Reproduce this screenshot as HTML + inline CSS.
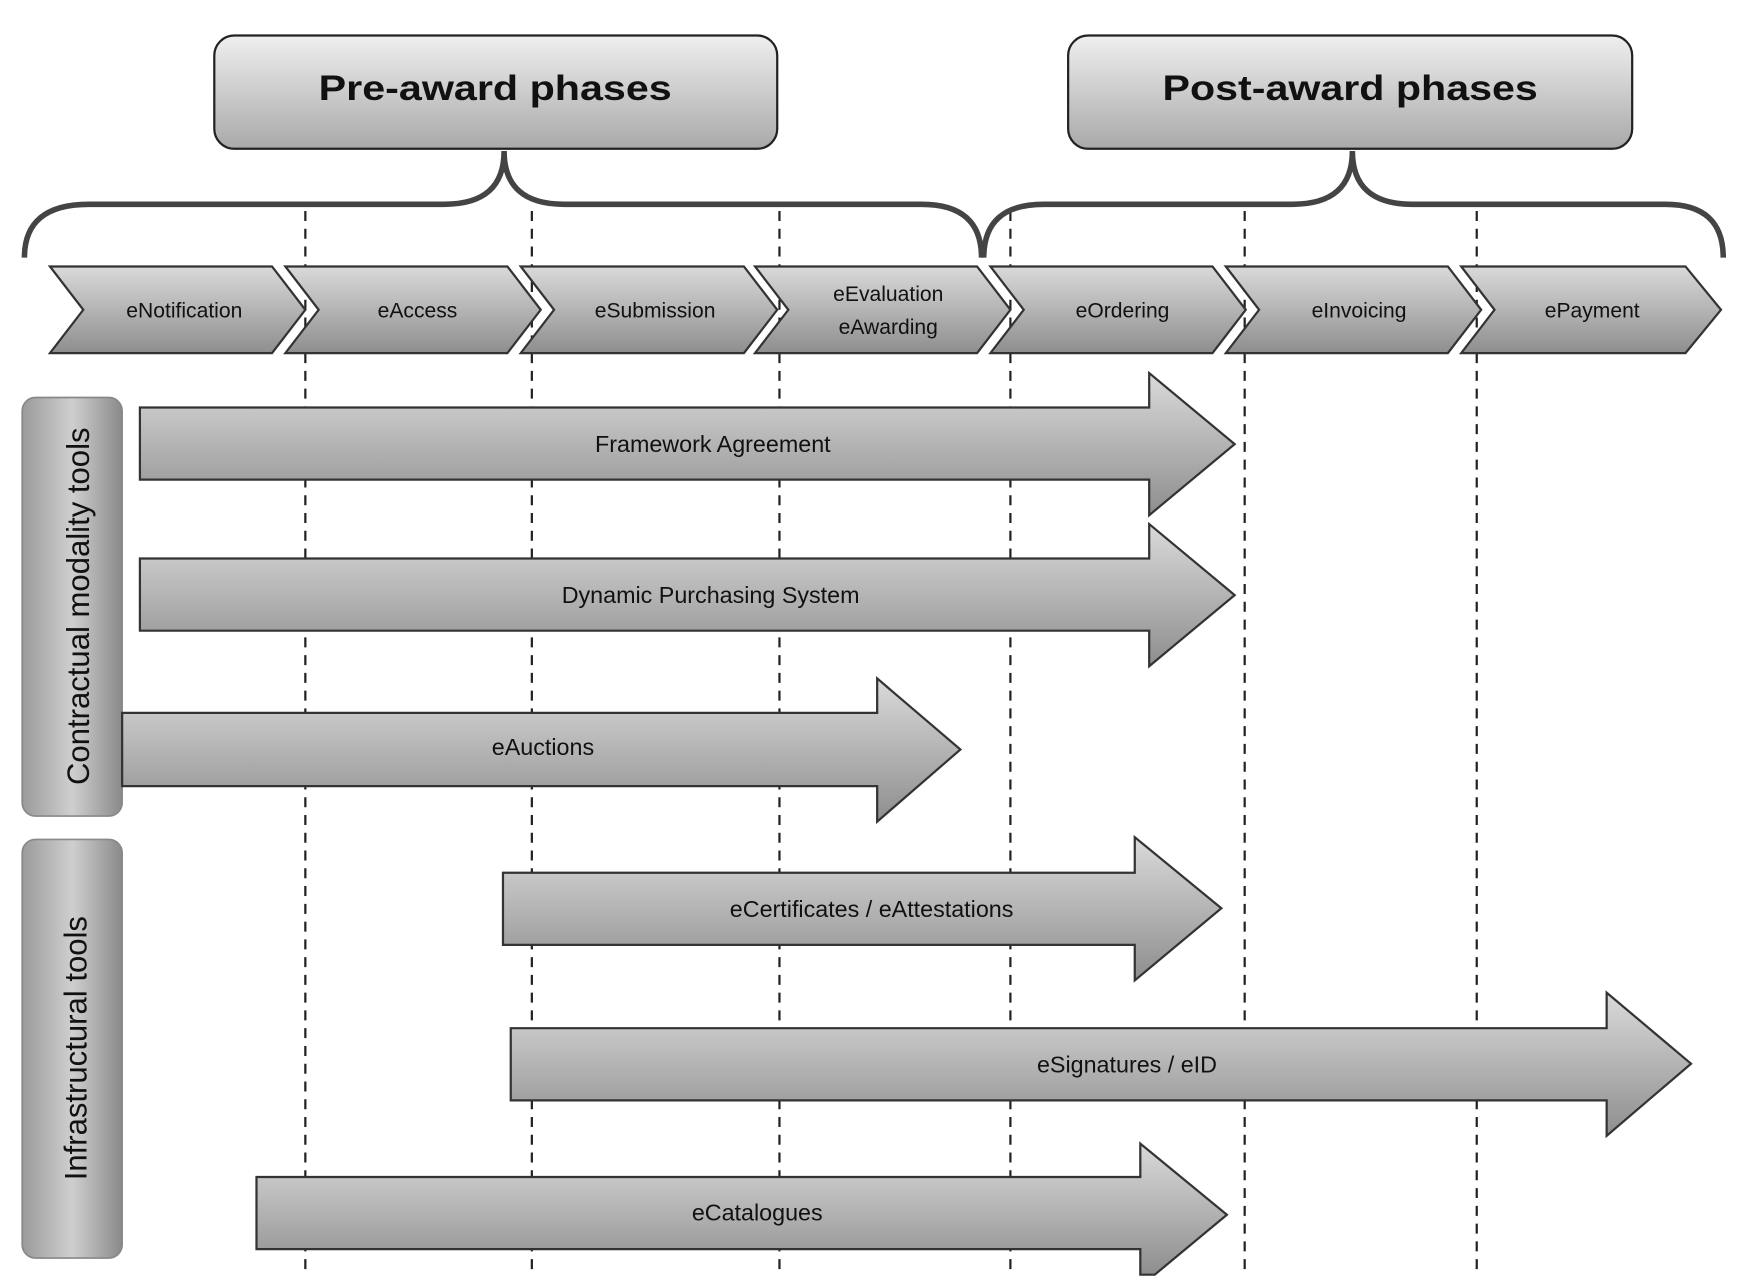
<!DOCTYPE html>
<html><head><meta charset="utf-8"><style>
html,body{margin:0;padding:0;background:#fff;}
svg{display:block;}
text{font-family:"Liberation Sans",sans-serif;}
</style></head><body>
<svg width="1741" height="1288" viewBox="0 0 1568 1160" preserveAspectRatio="none">
<defs>
<linearGradient id="g" x1="0" y1="0" x2="0" y2="1">
<stop offset="0" stop-color="#dadada"/><stop offset="1" stop-color="#8e8e8e"/>
</linearGradient>
<linearGradient id="gb" x1="0" y1="0" x2="0" y2="1">
<stop offset="0" stop-color="#efefef"/><stop offset="1" stop-color="#a9a9a9"/>
</linearGradient>
<linearGradient id="gs" x1="0" y1="0" x2="1" y2="0">
<stop offset="0" stop-color="#9a9a9a"/><stop offset="0.5" stop-color="#cfcfcf"/><stop offset="1" stop-color="#8a8a8a"/>
</linearGradient>
</defs>
<rect width="1568" height="1160" fill="#fff"/>
<g stroke="#222" stroke-width="2" stroke-dasharray="9,7">
<line x1="275" y1="190" x2="275" y2="1145"/>
<line x1="479" y1="190" x2="479" y2="1145"/>
<line x1="702" y1="190" x2="702" y2="1145"/>
<line x1="910" y1="190" x2="910" y2="1145"/>
<line x1="1121" y1="190" x2="1121" y2="1145"/>
<line x1="1330" y1="190" x2="1330" y2="1145"/>
</g>
<rect x="193" y="32" width="507" height="102" rx="18" fill="url(#gb)" stroke="#222" stroke-width="2"/>
<text x="446" y="90" font-size="32" font-weight="bold" text-anchor="middle" fill="#111" textLength="318" lengthAdjust="spacingAndGlyphs">Pre-award phases</text>
<rect x="962" y="32" width="508" height="102" rx="18" fill="url(#gb)" stroke="#222" stroke-width="2"/>
<text x="1216" y="90" font-size="32" font-weight="bold" text-anchor="middle" fill="#111" textLength="338" lengthAdjust="spacingAndGlyphs">Post-award phases</text>
<g fill="none" stroke="#444" stroke-width="5">
<path d="M22,232 Q22,184 80,184 L400,184 Q454,184 454,136 Q454,184 508,184 L830,184 Q884,184 884,232"/>
<path d="M886,232 Q886,184 940,184 L1164,184 Q1218,184 1218,136 Q1218,184 1272,184 L1500,184 Q1552,184 1552,232"/>
</g>
<g stroke="#333" stroke-width="2" fill="url(#g)">
<path d="M45,240 L245,240 L275,279 L245,318 L45,318 L75,279Z"/>
<path d="M257,240 L457,240 L487,279 L457,318 L257,318 L287,279Z"/>
<path d="M469,240 L670,240 L700,279 L670,318 L469,318 L499,279Z"/>
<path d="M680,240 L880,240 L910,279 L880,318 L680,318 L710,279Z"/>
<path d="M892,240 L1092,240 L1122,279 L1092,318 L892,318 L922,279Z"/>
<path d="M1104,240 L1304,240 L1334,279 L1304,318 L1104,318 L1134,279Z"/>
<path d="M1316,240 L1518,240 L1550,279 L1518,318 L1316,318 L1346,279Z"/>
</g>
<g font-size="19" fill="#111" text-anchor="middle">
<text x="166" y="286">eNotification</text>
<text x="376" y="286">eAccess</text>
<text x="590" y="286">eSubmission</text>
<text x="800" y="271">eEvaluation</text>
<text x="800" y="301">eAwarding</text>
<text x="1011" y="286">eOrdering</text>
<text x="1224" y="286">eInvoicing</text>
<text x="1434" y="286">ePayment</text>
</g>
<rect x="20" y="358" width="90" height="377" rx="12" fill="url(#gs)" stroke="#888" stroke-width="1.5"/>
<rect x="20" y="756" width="90" height="377" rx="12" fill="url(#gs)" stroke="#888" stroke-width="1.5"/>
<text transform="translate(80,546) rotate(-90)" font-size="28" text-anchor="middle" fill="#111">Contractual modality tools</text>
<text transform="translate(78,944) rotate(-90)" font-size="28" text-anchor="middle" fill="#111">Infrastructural tools</text>
<g stroke="#333" stroke-width="2" fill="url(#g)">
<path d="M126,367 L1035,367 L1035,336 L1112,400 L1035,464 L1035,432 L126,432Z"/>
<path d="M126,503 L1035,503 L1035,472 L1112,536 L1035,600 L1035,568 L126,568Z"/>
<path d="M110,642 L790,642 L790,611 L865,675 L790,740 L790,708 L110,708Z"/>
<path d="M453,786 L1022,786 L1022,754 L1100,818 L1022,883 L1022,851 L453,851Z"/>
<path d="M460,926 L1447,926 L1447,894 L1523,958 L1447,1023 L1447,991 L460,991Z"/>
<path d="M231,1060 L1027,1060 L1027,1030 L1105,1094 L1040,1148 L1027,1148 L1027,1125 L231,1125Z"/>
</g>
<g font-size="21" fill="#111" text-anchor="middle">
<text x="642" y="407">Framework Agreement</text>
<text x="640" y="543">Dynamic Purchasing System</text>
<text x="489" y="680">eAuctions</text>
<text x="785" y="826">eCertificates / eAttestations</text>
<text x="1015" y="966">eSignatures / eID</text>
<text x="682" y="1099">eCatalogues</text>
</g>
</svg>
</body></html>
